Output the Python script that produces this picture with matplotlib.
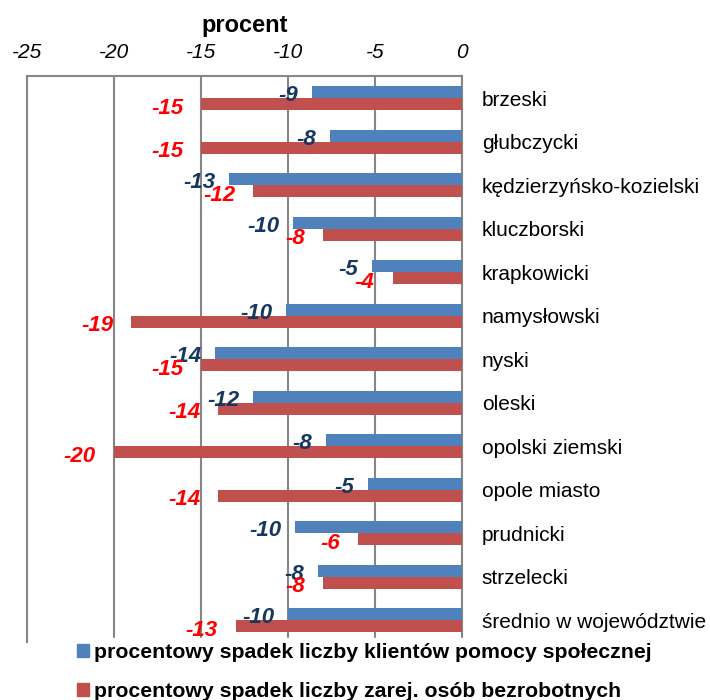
import numpy as np
import matplotlib
matplotlib.use('Agg')
import matplotlib.pyplot as plt
from matplotlib.patches import Patch

plt.rcParams['font.family'] = ['Liberation Sans', 'DejaVu Sans']
plt.rcParams['axes.unicode_minus'] = False

categories = ['brzeski', 'głubczycki', 'kędzierzyńsko-kozielski', 'kluczborski',
              'krapkowicki', 'namysłowski', 'nyski', 'oleski', 'opolski ziemski',
              'opole miasto', 'prudnicki', 'strzelecki', 'średnio w województwie']
klienci = [-8.6, -7.6, -13.4, -9.7, -5.2, -10.1, -14.2, -12.0, -7.8, -5.4, -9.6, -8.3, -10.0]
bezrobotni = [-15.0, -15.0, -12.0, -8.0, -4.0, -19.0, -15.0, -14.0, -20.0, -14.0, -6.0, -8.0, -13.0]
x_ticks = [-25, -20, -15, -10, -5, 0]

blue = '#4F81BD'
red = '#C0504D'

fig = plt.figure(figsize=(7.1, 7.0), dpi=100)
ax = fig.add_axes([0.038, 0.083, 0.613, 0.808])

y = np.arange(len(categories))
h = 0.275
ax.barh(y - h / 2, klienci, height=h, color=blue, zorder=3)
ax.barh(y + h / 2, bezrobotni, height=h, color=red, zorder=3)

# data labels at bar ends
for yi, v in zip(y, klienci):
    ax.annotate(f'{round(v):d}', (v, yi - h / 2), xytext=(-10, -2.5), textcoords='offset points',
                ha='right', va='center', fontsize=16, fontweight='bold', fontstyle='italic',
                color='#17375E', zorder=5)
for yi, v in zip(y, bezrobotni):
    ax.annotate(f'{round(v):d}', (v, yi + h / 2), xytext=(-13, -3), textcoords='offset points',
                ha='right', va='center', fontsize=16, fontweight='bold', fontstyle='italic',
                color='#FF0000', zorder=5)

ax.set_xlim(-25, 0)
ax.set_ylim(len(categories) - 0.5, -0.5)
ax.set_xticks(x_ticks)
ax.xaxis.tick_top()
ax.xaxis.set_label_position('top')
ax.set_xlabel('procent', fontsize=17, fontweight='bold', labelpad=8)
ax.tick_params(axis='x', length=0, labelsize=15, pad=10)
for lab in ax.get_xticklabels():
    lab.set_fontstyle('italic')

ax.set_yticks(y)
ax.set_yticklabels(categories)
ax.yaxis.tick_right()
ax.tick_params(axis='y', length=0, labelsize=15, pad=14)

ax.grid(axis='x', color='#868686', linewidth=1.5, zorder=0)
for s in ['top', 'left', 'right']:
    ax.spines[s].set_color('#868686')
    ax.spines[s].set_linewidth(1.5)
ax.spines['bottom'].set_visible(False)

handles = [Patch(color=blue), Patch(color=red)]
labels = ['procentowy spadek liczby klientów pomocy społecznej',
          'procentowy spadek liczby zarej. osób bezrobotnych']
fig.legend(handles, labels, loc='upper left', bbox_to_anchor=(0.103, 0.088),
           frameon=True, facecolor='white', edgecolor='white', framealpha=1,
           prop={'weight': 'bold', 'size': 15.3}, handlelength=0.55, handleheight=0.55,
           handletextpad=0.25, labelspacing=0.95, borderpad=0.2, borderaxespad=0)

fig.savefig('out.png', dpi=100)
